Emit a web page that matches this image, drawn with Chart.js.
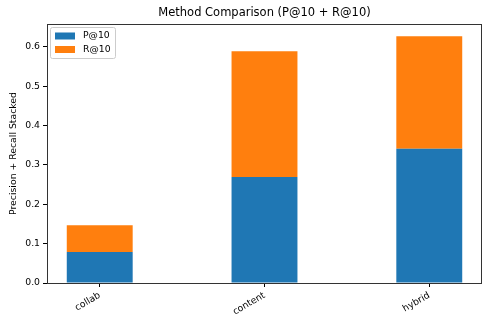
<!DOCTYPE html>
<html>
<head>
<meta charset="utf-8">
<script src="https://cdn.jsdelivr.net/npm/chart.js@4"></script>
<style>
  html, body { margin: 0; padding: 0; background: #fff; }
  #wrap { width: 492px; height: 325px; }
</style>
</head>
<body>
<div id="wrap"><canvas id="chart" width="492" height="325"></canvas></div>
<script>
// Data
const methods = ['collab', 'content', 'hybrid'];
const precisionAt10 = [0.079, 0.269, 0.341];
const recallAt10 = [0.068, 0.320, 0.286];
const yTicks = [0, 0.1, 0.2, 0.3, 0.4, 0.5, 0.6];
const titleText = 'Method Comparison (P@10 + R@10)';
const yLabel = 'Precision + Recall Stacked';

const FONT = '"DejaVu Sans", sans-serif';

// title, frame and in-plot legend, drawn like matplotlib does
const mplExtras = {
    id: 'mplExtras',
    afterDraw(chart) {
        const ctx = chart.ctx;
        const a = chart.chartArea;
        ctx.save();
        // axes frame
        ctx.strokeStyle = '#333';
        ctx.lineWidth = 1;
        ctx.strokeRect(a.left + 0.5, a.top + 0.5, a.right - a.left - 1, a.bottom - a.top);
        // title
        ctx.fillStyle = '#000';
        ctx.font = '11.5px ' + FONT;
        ctx.textAlign = 'center';
        ctx.textBaseline = 'bottom';
        ctx.fillText(titleText, (a.left + a.right) / 2, a.top - 5);
        // legend box
        const lx = a.left + 3, ly = a.top + 3, lw = 65, lh = 31;
        ctx.fillStyle = 'rgba(255,255,255,0.8)';
        ctx.strokeStyle = '#ccc';
        ctx.beginPath();
        ctx.roundRect(lx + 0.5, ly + 0.5, lw, lh, 2);
        ctx.fill();
        ctx.stroke();
        ctx.font = '9.3px ' + FONT;
        ctx.textAlign = 'left';
        ctx.textBaseline = 'middle';
        chart.data.datasets.forEach((ds, i) => {
            const cy = ly + 9 + i * 13.5;
            ctx.fillStyle = ds.backgroundColor;
            ctx.fillRect(lx + 5, cy - 3.5, 20, 7);
            ctx.fillStyle = '#000';
            ctx.fillText(ds.label, lx + 33, cy);
        });
        ctx.restore();
    }
};

new Chart(document.getElementById('chart'), {
    type: 'bar',
    data: {
        datasets: [
            {
                label: 'P@10',
                data: precisionAt10.map((v, i) => ({x: i, y: v})),
                backgroundColor: '#1f77b4',
                barPercentage: 0.4,
                categoryPercentage: 1
            },
            {
                label: 'R@10',
                data: recallAt10.map((v, i) => ({x: i, y: v})),
                backgroundColor: '#ff7f0e',
                barPercentage: 0.4,
                categoryPercentage: 1
            }
        ]
    },
    options: {
        responsive: false,
        animation: false,
        layout: {padding: {top: 24, right: 10, left: 0, bottom: 0}},
        plugins: {
            legend: {display: false},
            title: {display: false},
            tooltip: {enabled: false}
        },
        scales: {
            x: {
                type: 'linear',
                stacked: true,
                offset: false,
                min: -0.32,
                max: 2.32,
                afterBuildTicks: s => { s.ticks = methods.map((m, i) => ({value: i})); },
                afterFit: s => { s.height = 42; },
                grid: {offset: false, drawOnChartArea: false, drawTicks: true, tickLength: 4, color: '#000'},
                border: {display: false},
                ticks: {
                    font: {family: FONT, size: 9.3},
                    color: '#000',
                    padding: 3,
                    minRotation: 30,
                    maxRotation: 30,
                    autoSkip: false,
                    callback: v => methods[v]
                }
            },
            y: {
                stacked: true,
                min: 0,
                max: 0.658,
                afterBuildTicks: s => { s.ticks = yTicks.map(v => ({value: v})); },
                afterFit: s => { s.width = 47; },
                grid: {drawOnChartArea: false, drawTicks: true, tickLength: 4, color: '#000'},
                border: {display: false},
                title: {
                    display: true,
                    text: yLabel,
                    font: {family: FONT, size: 9.3},
                    color: '#000',
                    padding: {top: 8, bottom: 4}
                },
                ticks: {
                    font: {family: FONT, size: 9.3},
                    color: '#000',
                    padding: 3,
                    callback: v => v.toFixed(1)
                }
            }
        }
    },
    plugins: [mplExtras]
});
</script>
</body>
</html>
